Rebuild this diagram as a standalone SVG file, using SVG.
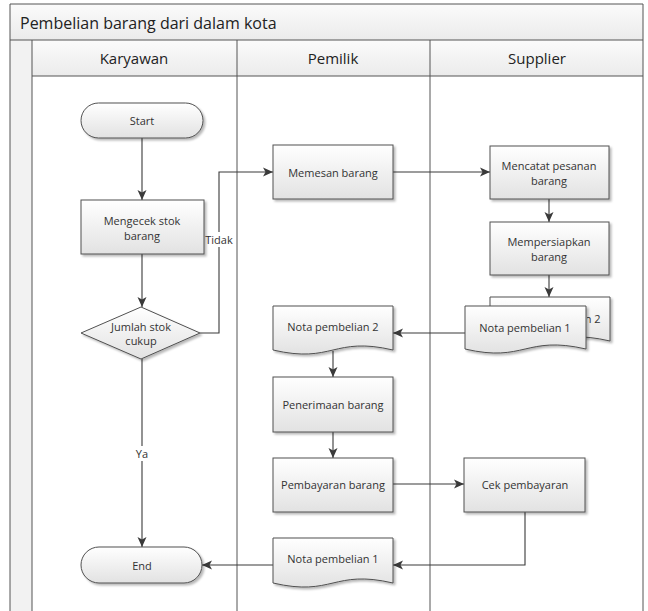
<svg xmlns="http://www.w3.org/2000/svg" width="648" height="611" viewBox="0 0 648 611">
  <defs>
    <linearGradient id="boxFill" x1="0" y1="0" x2="0" y2="1">
      <stop offset="0" stop-color="#ffffff"/>
      <stop offset="1" stop-color="#e2e2e2"/>
    </linearGradient>
    <linearGradient id="barFill" x1="0" y1="0" x2="0" y2="1">
      <stop offset="0" stop-color="#fbfbfb"/>
      <stop offset="1" stop-color="#ebebeb"/>
    </linearGradient>
    <filter id="shadow" x="-10%" y="-10%" width="130%" height="140%">
      <feDropShadow dx="2" dy="2" stdDeviation="1.2" flood-color="#000" flood-opacity="0.28"/>
    </filter>
    <marker id="arrow" viewBox="0 0 10 10" refX="10" refY="5" markerWidth="10" markerHeight="10" markerUnits="userSpaceOnUse" orient="auto">
      <path d="M0,0.5 L10,5 L0,9.5 L2.5,5 Z" fill="#3a3a3a"/>
    </marker>
    <!-- only the right-hand tail of the rear document's caption shows past the front sheet -->
    <clipPath id="rearCaption">
      <rect x="587" y="300" width="30" height="40"/>
    </clipPath>
  </defs>
  <style>
    .shape { fill: url(#boxFill); stroke: #505050; stroke-width: 1; filter: url(#shadow); }
    .label { font-family: "Open Sans", "Liberation Sans", sans-serif; font-size: 11px; fill: #333; text-anchor: middle; dominant-baseline: central; }
    .lane { font-family: "Open Sans", "Liberation Sans", sans-serif; font-size: 15px; fill: #222; text-anchor: middle; dominant-baseline: central; }
    .title { font-family: "Open Sans", "Liberation Sans", sans-serif; font-size: 16px; fill: #222; dominant-baseline: central; }
    .frame { stroke: #555; stroke-width: 1; fill: none; }
    .conn { stroke: #3a3a3a; stroke-width: 1.1; fill: none; }
    .arr { marker-end: url(#arrow); }
  </style>

  <rect width="648" height="611" fill="#ffffff"/>

  <!-- swimlane pool -->
  <g id="pool">
    <rect x="10" y="4" width="633" height="36" fill="url(#barFill)"/>
    <rect x="32" y="40" width="611" height="36" fill="url(#barFill)"/>
    <rect x="10" y="40" width="22" height="571" fill="#f2f2f2"/>
    <path class="frame" d="M10,611 V4 H643 V611"/>
    <path class="frame" d="M10,40 H643 M32,76 H643 M32,40 V611 M237,40 V611 M430,40 V611"/>
    <text class="title" x="20" y="23">Pembelian barang dari dalam kota</text>
    <text class="lane" x="134" y="58">Karyawan</text>
    <text class="lane" x="333" y="58">Pemilik</text>
    <text class="lane" x="537" y="58">Supplier</text>
  </g>

  <!-- connectors -->
  <g id="connectors">
    <path class="conn arr" d="M142,138 V200"/>
    <path class="conn arr" d="M142,254 V307"/>
    <path class="conn arr" d="M200,333 H219 V172 H273"/>
    <path class="conn arr" d="M393,172 H490"/>
    <path class="conn arr" d="M549,199 V222"/>
    <path class="conn arr" d="M549,275 V297"/>
    <path class="conn arr" d="M465,333 H393"/>
    <path class="conn arr" d="M333,351 V377"/>
    <path class="conn arr" d="M333,432 V458"/>
    <path class="conn arr" d="M393,484 H464"/>
    <path class="conn arr" d="M525,512 V565 H393"/>
    <path class="conn arr" d="M273,565 H202"/>
    <path class="conn arr" d="M142,359 V547"/>
    <rect x="203" y="232" width="32" height="15" fill="#ffffff"/>
    <text class="label" x="219" y="239">Tidak</text>
    <rect x="132" y="446" width="20" height="15" fill="#ffffff"/>
    <text class="label" x="142" y="453">Ya</text>
  </g>

  <!-- Karyawan lane -->
  <g id="start">
    <rect class="shape" x="81" y="103" width="122" height="35" rx="17.5"/>
    <text class="label" x="142" y="120.5">Start</text>
  </g>
  <g id="cek-stok">
    <rect class="shape" x="81" y="200" width="123" height="54"/>
    <text class="label" x="142" y="220.5">Mengecek stok</text>
    <text class="label" x="142" y="235">barang</text>
  </g>
  <g id="jumlah-stok">
    <path class="shape" d="M141,307 L200,333 L141,359 L81,333 Z"/>
    <text class="label" x="141" y="326">Jumlah stok</text>
    <text class="label" x="141" y="340.5">cukup</text>
  </g>
  <g id="end">
    <rect class="shape" x="81" y="547" width="121" height="36" rx="18"/>
    <text class="label" x="142" y="565">End</text>
  </g>

  <!-- Pemilik lane -->
  <g id="memesan">
    <rect class="shape" x="273" y="145" width="120" height="54"/>
    <text class="label" x="333" y="172">Memesan barang</text>
  </g>
  <g id="nota2-pemilik">
    <path class="shape" d="M273,306 H393 V350 C333,336 333,364 273,350 Z"/>
    <text class="label" x="333" y="326">Nota pembelian 2</text>
  </g>
  <g id="penerimaan">
    <rect class="shape" x="273" y="377" width="120" height="55"/>
    <text class="label" x="333" y="404">Penerimaan barang</text>
  </g>
  <g id="pembayaran">
    <rect class="shape" x="273" y="458" width="120" height="54"/>
    <text class="label" x="333" y="484">Pembayaran barang</text>
  </g>
  <g id="nota1-pemilik">
    <path class="shape" d="M273,538 H393 V583 C333,569 333,597 273,583 Z"/>
    <text class="label" x="333" y="558">Nota pembelian 1</text>
  </g>

  <!-- Supplier lane -->
  <g id="mencatat">
    <rect class="shape" x="490" y="146" width="119" height="53"/>
    <text class="label" x="549" y="165.5">Mencatat pesanan</text>
    <text class="label" x="549" y="180">barang</text>
  </g>
  <g id="mempersiapkan">
    <rect class="shape" x="490" y="222" width="119" height="53"/>
    <text class="label" x="549" y="241.5">Mempersiapkan</text>
    <text class="label" x="549" y="256">barang</text>
  </g>
  <g id="nota2-supplier">
    <path class="shape" d="M490,297 H610 V341 C550,327 550,355 490,341 Z"/>
    <text class="label" x="555" y="318" clip-path="url(#rearCaption)">Nota pembelian 2</text>
  </g>
  <g id="nota1-supplier">
    <path class="shape" d="M465,306 H586 V349 C525,335 525,363 465,349 Z"/>
    <text class="label" x="525" y="327">Nota pembelian 1</text>
  </g>
  <g id="cek-pembayaran">
    <rect class="shape" x="464" y="458" width="121" height="54"/>
    <text class="label" x="525" y="484">Cek pembayaran</text>
  </g>
</svg>
